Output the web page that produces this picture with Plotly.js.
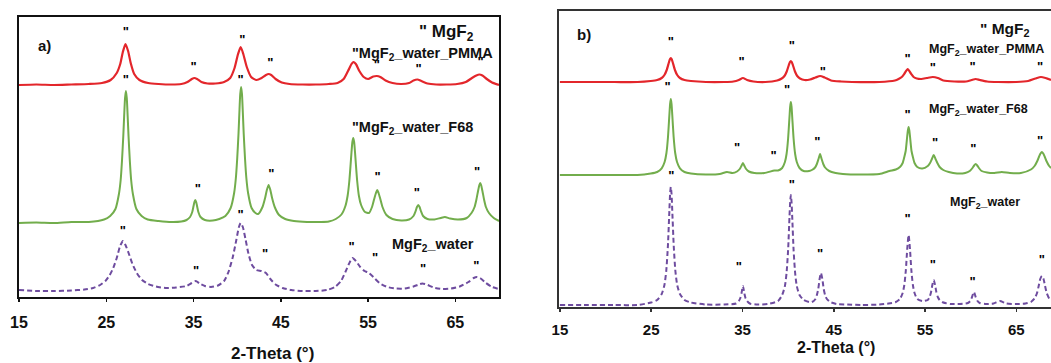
<!DOCTYPE html>
<html>
<head>
<meta charset="utf-8">
<script src="https://cdn.plot.ly/plotly-3.0.1.min.js"></script>
<style>html,body{margin:0;padding:0;background:#fff;}#chart{width:1051px;height:363px;}</style>
</head>
<body>
<div id="chart"></div>
<script>
// ---------- Panel a) data (stacked, arbitrary intensity units) ----------
const aPMMA_x = [15,17,19,21,23,24.5,25.5,26.2,26.6,26.9,27.2,27.5,27.8,28.2,28.8,29.8,31,32.5,33.6,34.3,34.8,35.1,35.4,35.9,36.6,37.5,38.5,39.2,39.7,40.1,40.4,40.7,41.1,41.6,42.2,42.8,43.3,43.6,43.9,44.4,45.1,46,47.5,49,50.5,51.5,52.2,52.7,53.1,53.3,53.6,54.0,54.5,55.0,55.6,56.0,56.4,57,57.8,58.8,59.7,60.2,60.65,61.1,61.8,62.8,64,65.2,66.2,66.9,67.4,67.75,68.1,68.6,69.2,70];
const aPMMA_y = [212,212.5,212,212.5,213,214,217,224,233,245,253,246,234,223,217,214,213,212.5,213,215,218,219,218,215,213.5,213.5,215,219,229,243,250,243,230,220,217,219,222,223,222,218,214.5,213,212.5,212.5,213,214,218,226,233,235,233,226,220,218,220.5,221,220,216.5,214,213,214,216.5,217.5,216,213.5,212.5,212.5,213,215,219,221.5,222.5,221.5,218,214.5,212];

const aF68_x = [15,17,19,21,23,24.75,25.45,26.05,26.45,26.65,26.8,26.95,27.05,27.15,27.25,27.35,27.45,27.55,27.7,27.85,28.05,28.45,29.05,29.75,31,32.5,33.6,34.2,34.6,34.85,35.0,35.1,35.2,35.3,35.4,35.55,35.8,36.3,37.2,37.95,38.65,39.25,39.65,39.85,40.0,40.15,40.25,40.35,40.45,40.55,40.65,40.75,40.9,41.05,41.25,41.65,42.1,42.4,42.9,43.2,43.4,43.6,43.8,44.0,44.3,44.8,45.5,46.5,48,49.5,50.5,51.3,51.95,52.4,52.65,52.85,53.0,53.1,53.2,53.3,53.4,53.5,53.6,53.75,53.95,54.2,54.65,55.1,55.45,55.7,55.9,56.05,56.2,56.4,56.65,57.1,57.8,58.8,59.7,60.2,60.45,60.6,60.75,60.9,61.05,61.3,61.8,62.6,63.3,63.8,64.4,65.3,66.3,66.85,67.2,67.4,67.6,67.75,67.85,67.95,68.1,68.3,68.5,68.85,69.4,70];
const aF68_y = [74,74.5,74,75,75,77.5,81,88,103,117,136,161,181,199,206,199,181,161,136,117,103,88,81,77.5,76,75,75.5,77,80,85,91,95,97,95,91,85,80,77,76.5,78,81,89,104,119,138,163,184,203,210,203,184,163,138,119,104,89,84,83,90,99,107,112,107,99,90,82,78,76,75,75,75.5,78,82.5,91,101,116,133,145,155,159,155,145,133,116,101,92,85,84,90,98,104,107,104,98,90,82,78,76.5,77.5,81,86,90,92,90,86,81,78,77.5,79,80,78.5,77.5,79,84,90,97,106,112,114,112,106,97,90,84,79,76];

const aWater_x = [15,17,19,21,22.5,23.5,24.3,24.9,25.4,25.8,26.2,26.55,26.9,27.2,27.6,28.0,28.5,29.1,29.8,30.7,31.8,33,34.2,34.8,35.25,35.7,36.3,37,37.8,38.5,39.0,39.5,39.9,40.2,40.4,40.65,40.95,41.3,41.7,42.2,42.8,43.3,43.8,44.4,45.2,46.2,47.5,49,50.3,51.2,51.9,52.4,52.8,53.2,53.6,54.1,54.6,55.1,55.6,56.3,57.2,58.2,59.2,60.2,60.8,61.2,61.7,62.5,63.5,64.5,65.5,66.5,67.1,67.5,67.9,68.5,69.2,70];
const aWater_y = [7,6,6,6.5,7.5,9,12,16,22,29,39,50,56,52,43,33,24,17,13,10.5,9,9.5,11,14,16,13.5,11,10,11.5,16,25,40,57,70,74,70,58,43,32,27,26,24,18,12.5,9,7,6,6,7,10,16,25,33,39,36,30,26,24,20,14,10,8.5,8.5,10.5,12.5,13.5,12.5,9.5,8,8.5,10.5,15,19,20,18.5,14,10,8];

// peak markers (") for panel a
const aMarkPMMA_x = [27.25,35.0,40.6,43.8,56.0,60.8,67.9];
const aMarkPMMA_y = [264,229,256,233,231,227,234];
const aMarkF68_x = [27.25,40.4,35.5,43.9,56.1,60.6,67.5];
const aMarkF68_y = [216,216,107,122,119,103,124];
const aMarkWater_x = [26.9,35.3,40.4,43.2,53.1,55.8,61.3,67.4,55.6];
const aMarkWater_y = [65,25,81,42,49,38,27,30,-11];

// ---------- Panel b) data ----------
const bPMMA_x = [15,18,21,23.5,24.95,25.65,26.15,26.45,26.7,26.93,27.05,27.15,27.25,27.37,27.6,27.85,28.15,28.65,29.35,31,33,34.0,34.6,35.05,35.5,36.2,37.5,38.8,39.3,39.6,39.85,40.08,40.2,40.3,40.4,40.52,40.75,41.0,41.3,41.8,42.4,43.0,43.5,44.0,44.7,45.8,47,50,51.7,52.1,52.45,52.75,53.1,53.45,53.75,54.1,54.6,55.2,55.85,56.4,57.0,58.2,59.5,60.1,60.55,61.0,61.8,63,65,66.3,67.1,67.7,68.2,68.8];
const bPMMA_y = [225,225,225,225,226,227,229,232,237,244.3,247.8,249,247.8,244.3,237,232,229,227,226,225,225,225.5,227,229,227,225.5,225,226.5,228.5,231,235.5,242,245,246,245,242,235.5,231,228.5,227,227.5,229.5,231,229.5,226.5,225.5,225,225,226.5,228,230,233.5,238,233.5,230,228.5,228,229,230,229,226.5,225.5,225.5,227,228,227,225.5,225,225,226,228.5,230,229,227];

const bF68_x = [15,18,21,23.5,24.95,25.65,26.15,26.47,26.67,26.84,26.99,27.07,27.15,27.23,27.31,27.46,27.63,27.83,28.15,28.65,29.35,31,32.5,33.3,33.9,34.4,34.7,34.88,35.05,35.22,35.4,35.7,36.3,37.4,38.5,38.9,39.35,39.65,39.83,40.0,40.15,40.225,40.3,40.375,40.45,40.6,40.77,40.95,41.25,41.7,42.3,42.6,42.95,43.15,43.33,43.5,43.67,43.85,44.05,44.5,45.2,46,48,50,51.1,51.8,52.25,52.55,52.73,52.88,53.04,53.12,53.2,53.28,53.36,53.52,53.67,53.85,54.15,54.7,55.3,55.55,55.75,55.95,56.15,56.35,56.6,57.0,57.6,58.5,59.4,59.9,60.2,60.38,60.55,60.72,60.9,61.2,61.8,62.6,63.4,64.3,65.5,66.6,67.0,67.3,67.5,67.65,67.8,67.95,68.1,68.3,68.6,68.8];
const bF68_y = [132,132,132,132,133.5,135,138.7,145,154,170,192,203,208,203,192,170,154,145,138.7,135,133.5,132.5,133,135,134,135.5,138,141,144,141,138,135.5,134,134,136.5,136.5,139,145,153,168.5,190,200.5,205,200.5,190,168.5,153,145,139,136,136,137,139.5,143,148,153,148,143,139.5,136,134,133,132.5,133,136,137.5,140,144,150,156,170,176.5,180,176.5,170,156,150,144,140,138.5,141,144,148,152,148,144,140,137,135,133.5,134,136,139,141.5,143,141.5,139,136,134.5,134,135,134,134,137.5,141,146,150.5,153.5,155,153.5,150.5,146,141,139];

const bWater_x = [15,18,21,23.5,25.0,25.65,26.15,26.45,26.65,26.83,26.99,27.07,27.15,27.23,27.31,27.47,27.65,27.85,28.15,28.65,29.35,31,33,34.3,34.6,34.77,34.9,35.05,35.2,35.33,35.5,35.8,36.5,37.8,38.9,39.35,39.65,39.83,40.0,40.15,40.225,40.3,40.375,40.45,40.6,40.77,40.95,41.25,41.7,42.3,42.6,43.0,43.15,43.3,43.45,43.6,43.75,43.9,44.05,44.25,44.6,45.3,46.5,48,50,51.0,51.8,52.25,52.55,52.73,52.9,53.05,53.2,53.35,53.5,53.67,53.85,54.15,54.7,55.3,55.5,55.65,55.8,55.95,56.1,56.25,56.4,56.6,57.0,57.8,58.8,59.7,59.95,60.15,60.35,60.55,60.75,61.0,61.6,62.5,63.2,63.9,65.0,66.0,66.6,67.0,67.27,67.45,67.62,67.8,67.98,68.15,68.33,68.6,68.8];
const bWater_y = [2,2,2,2,4.5,7,13,22,36,61,96,113,120,113,96,61,36,22,13,7,4.5,2.5,2.5,3.5,6,9,14,21,14,9,6,3.5,2.5,3,6,12,21,34,57,90,105,112,105,90,57,34,21,12,7,5,5,8,12,18,28,34,28,18,12,8,5,3,2.5,2,2.5,3.5,5,8,14,22,37,58,72,58,37,22,14,8,6,7,10,14.5,22,27,22,14.5,10,7,4.5,3,3,4,6,10,15,10,6,4,3,3.5,6,3.5,3,3.5,5,8.5,14,21,28,31,28,21,14,8.5,7];

// peak markers (") for panel b
const bMarkPMMA_x = [27.15,34.9,40.4,43.8,53.1,55.85,60.2,67.6];
const bMarkPMMA_y = [264,244,260,234,247,238,239,239];
const bMarkF68_x = [26.8,34.4,38.4,39.9,43.2,53.1,56.1,60.3,67.6];
const bMarkF68_y = [219,158,150,216,164,191,163,157,165];
const bMarkWater_x = [27.2,40.4,53.1,34.6,43.5,55.85,60.2,67.8];
const bMarkWater_y = [130,121,87,39,52,41,24,46];

const tickVals = [15,25,35,45,55,65];
const tickText = ['15','25','35','45','55','65'];

// ---------- styles ----------
const FONT = 'Arial, "Liberation Sans", Helvetica, sans-serif';
const RED = '#E3262B', GREEN = '#72AD4C', PURPLE = '#6E4C9F';

function line(x, y, color, xa, ya, dash, w) {
  return {x: x, y: y, type: 'scatter', mode: 'lines', xaxis: xa, yaxis: ya,
          line: {color: color, width: w || 2, dash: dash || 'solid', shape: 'spline', smoothing: 0.6},
          hoverinfo: 'skip', showlegend: false};
}
function marks(x, y, xa, ya) {
  return {x: x, y: y, type: 'scatter', mode: 'text', xaxis: xa, yaxis: ya,
          text: x.map(() => '"'), textposition: 'middle center', cliponaxis: false,
          textfont: {family: FONT, size: 13, color: '#000', weight: 'bold'}, hoverinfo: 'skip', showlegend: false};
}

const data = [
  line(aPMMA_x, aPMMA_y, RED, 'x', 'y', 'solid', 2.2),
  line(aF68_x, aF68_y, GREEN, 'x', 'y', 'solid', 2),
  line(aWater_x, aWater_y, PURPLE, 'x', 'y', '5px,3px', 2),
  marks(aMarkPMMA_x, aMarkPMMA_y, 'x', 'y'),
  marks(aMarkF68_x, aMarkF68_y, 'x', 'y'),
  marks(aMarkWater_x, aMarkWater_y, 'x', 'y'),
  line(bPMMA_x, bPMMA_y, RED, 'x2', 'y2', 'solid', 2.2),
  line(bF68_x, bF68_y, GREEN, 'x2', 'y2', 'solid', 2),
  line(bWater_x, bWater_y, PURPLE, 'x2', 'y2', '5px,3px', 2),
  marks(bMarkPMMA_x, bMarkPMMA_y, 'x2', 'y2'),
  marks(bMarkF68_x, bMarkF68_y, 'x2', 'y2'),
  marks(bMarkWater_x, bMarkWater_y, 'x2', 'y2')
];

function ann(text, x, y, xref, yref, size) {
  return {text: text, x: x, y: y, xref: xref, yref: yref, xanchor: 'left', yanchor: 'middle',
          showarrow: false, font: {family: FONT, size: size, color: '#111', weight: 'bold'}};
}

const W = 1051, H = 363;
const layout = {
  width: W, height: H,
  margin: {l: 0, r: 0, t: 0, b: 0},
  paper_bgcolor: '#fff', plot_bgcolor: '#fff',
  showlegend: false,
  xaxis: {domain: [19/W, 499/W], range: [15, 70], showgrid: false, zeroline: false,
          showline: true, mirror: true, linecolor: '#111', linewidth: 2,
          ticks: 'outside', ticklen: 3, tickwidth: 1.5, tickcolor: '#111',
          tickvals: tickVals, ticktext: tickText, ticklabelstandoff: 7,
          tickfont: {family: FONT, size: 16, color: '#111', weight: 'bold'}, anchor: 'y'},
  yaxis: {domain: [66/H, 346/H], range: [0, 280], showgrid: false, zeroline: false,
          showline: true, mirror: true, linecolor: '#111', linewidth: 2,
          showticklabels: false, ticks: '', anchor: 'x'},
  xaxis2: {domain: [559/W, 1], range: [14.9, 68.8], showgrid: false, zeroline: false,
          showline: true, mirror: true, linecolor: '#333', linewidth: 2,
          ticks: 'outside', ticklen: 3, tickwidth: 1.5, tickcolor: '#333',
          tickvals: tickVals, ticktext: tickText, ticklabelstandoff: 5,
          tickfont: {family: FONT, size: 15, color: '#111', weight: 'bold'}, anchor: 'y2'},
  yaxis2: {domain: [56/H, 352/H], range: [0, 296], showgrid: false, zeroline: false,
          showline: true, mirror: false, linecolor: '#333', linewidth: 2,
          showticklabels: false, ticks: '', anchor: 'x2'},
  annotations: [
    ann('a)', 17.0, 252, 'x', 'y', 15),
    ann('" MgF<sub>2</sub>', 60.6, 264, 'x', 'y', 17),
    ann('"MgF<sub>2</sub>_water_PMMA', 52.9, 243, 'x', 'y', 14.5),
    ann('"MgF<sub>2</sub>_water_F68', 52.9, 169, 'x', 'y', 14.5),
    ann('MgF<sub>2</sub>_water', 57.5, 52, 'x', 'y', 14.5),
    ann('b)', 16.6, 272, 'x2', 'y2', 15),
    ann('" MgF<sub>2</sub>', 60.75, 277, 'x2', 'y2', 15.5),
    ann('MgF<sub>2</sub>_water_PMMA', 55.2, 257, 'x2', 'y2', 12.5),
    ann('MgF<sub>2</sub>_water_F68', 55.2, 197, 'x2', 'y2', 12.5),
    ann('MgF<sub>2</sub>_water', 57.5, 104, 'x2', 'y2', 12.5),
    {text: '2-Theta (°)', x: 272/W, y: 1 - 353/H, xref: 'paper', yref: 'paper',
     xanchor: 'center', yanchor: 'middle', showarrow: false, font: {family: FONT, size: 17, color: '#111', weight: 'bold'}},
    {text: '2-Theta (°)', x: 836/W, y: 1 - 347/H, xref: 'paper', yref: 'paper',
     xanchor: 'center', yanchor: 'middle', showarrow: false, font: {family: FONT, size: 16, color: '#111', weight: 'bold'}}
  ]
};

Plotly.newPlot('chart', data, layout, {staticPlot: true, displayModeBar: false});
</script>
</body>
</html>
